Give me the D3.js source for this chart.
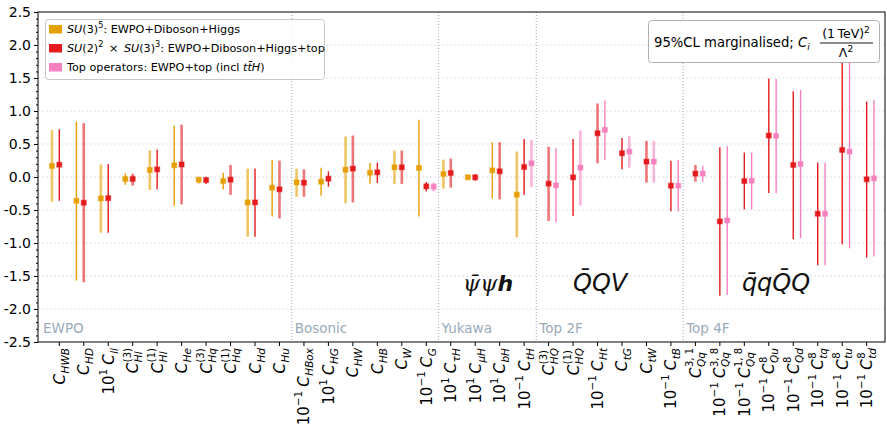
<!DOCTYPE html>
<html>
<head>
<meta charset="utf-8">
<script src="https://cdn.jsdelivr.net/npm/d3@7"></script>
<style>
  body { margin: 0; background: #fff; }
  svg { font-family: 'DejaVu Sans', sans-serif; }
</style>
</head>
<body>
<svg id="canvas" width="887" height="425"></svg>
<script>
// coefficient labels: scale prefix, superscript, subscript
const coefScale = [null, null, '1', null, null, null, null, null, null, null,
  '−1', '1', null, null, null, '−1',
  '1', '1', '1', '−1',
  null, null, '−1', null, null, '−1',
  null, '−1', '−1', '−1', '−1', '−1', '−1', '−1'];
const coefSups = [null, null, null, '(3)', '(1)', null, '(3)', '(1)', null, null,
  null, null, null, null, null, null,
  null, null, null, null,
  '(3)', '(1)', null, null, null, null,
  '3, 1', '3, 8', '1, 8', '8', '8', '8', '8', '8'];
const coefSubs = ['HWB', 'HD', 'll', 'Hl', 'Hl', 'He', 'Hq', 'Hq', 'Hd', 'Hu',
  'HBox', 'HG', 'HW', 'HB', 'W', 'G',
  'τH', 'μH', 'bH', 'tH',
  'HQ', 'HQ', 'Ht', 'tG', 'tW', 'tB',
  'Qq', 'Qq', 'Qq', 'Qu', 'Qd', 'tq', 'tu', 'td'];

const sectionNames = ['EWPO', 'Bosonic', 'Yukawa', 'Top 2F', 'Top 4F'];
const sectionStart = [0, 10, 16, 20, 26];

// SU(3)^5 fit (first 20 coefficients)
const su3Mid = [0.167, -0.36, -0.324, -0.03, 0.106, 0.177, -0.04, -0.06, -0.385, -0.162,
  -0.081, -0.071, 0.111, 0.066, 0.147, 0.137, 0.046, -0.005, 0.101, -0.268];
const su3Hi = [0.71, 0.84, 0.19, 0.056, 0.405, 0.78, 0.0, 0.066, 0.127, 0.263,
  0.127, 0.142, 0.613, 0.213, 0.40, 0.866, 0.263, 0.035, 0.527, 0.385];
const su3Lo = [-0.375, -1.57, -0.845, -0.12, -0.197, -0.435, -0.10, -0.19, -0.906, -0.60,
  -0.30, -0.284, -0.40, -0.101, -0.106, -0.60, -0.177, -0.046, -0.324, -0.911];

// SU(2)^2 x SU(3)^3 fit
const su2Mid = [0.187, -0.39, -0.32, -0.03, 0.116, 0.19, -0.046, -0.04, -0.385, -0.187,
  -0.086, -0.025, 0.127, 0.071, 0.147, -0.142, 0.061, -0.005, 0.086, 0.152,
  -0.101, -0.005, 0.663, 0.36, 0.233, -0.132, 0.051, -0.673, -0.061, 0.628, 0.182, -0.557, 0.41, -0.035];
const su2Hi = [0.724, 0.815, 0.197, 0.05, 0.415, 0.795, 0.005, 0.18, 0.127, 0.248,
  0.116, 0.086, 0.628, 0.218, 0.40, -0.076, 0.278, 0.04, 0.527, 0.577,
  0.46, 0.577, 1.114, 0.592, 0.547, 0.248, 0.182, 0.45, 0.37, 1.494, 1.301, 0.218, 1.9, 1.144];
const su2Lo = [-0.36, -1.595, -0.845, -0.13, -0.187, -0.415, -0.106, -0.27, -0.906, -0.628,
  -0.30, -0.147, -0.385, -0.091, -0.106, -0.218, -0.162, -0.056, -0.339, -0.273,
  -0.668, -0.592, 0.208, 0.116, -0.086, -0.52, -0.071, -1.80, -0.491, -0.243, -0.942, -1.337, -1.018, -1.22];

// top operators fit (null = not in fit)
const topMid = [null, null, null, null, null, null, null, null, null, null,
  null, null, null, null, null, -0.147, null, null, null, 0.208,
  -0.127, 0.142, 0.714, 0.385, 0.233, -0.132, 0.051, -0.658, -0.056, 0.623, 0.197, -0.557, 0.385, -0.02];
const topHi = [null, null, null, null, null, null, null, null, null, null,
  null, null, null, null, null, -0.086, null, null, null, 0.56,
  0.435, 0.704, 1.16, 0.623, 0.547, 0.253, 0.172, 0.466, 0.37, 1.484, 1.32, 0.218, 1.9, 1.165];
const topLo = [null, null, null, null, null, null, null, null, null, null,
  null, null, null, null, null, -0.218, null, null, null, -0.152,
  -0.689, -0.43, 0.263, 0.142, -0.086, -0.52, -0.071, -1.787, -0.491, -0.248, -0.927, -1.337, -1.08, -1.205];

const yTicks = [-2.5, -2.0, -1.5, -1.0, -0.5, 0.0, 0.5, 1.0, 1.5, 2.0, 2.5];

// styling
const colors = { su3: '#e69f00', su2: '#e41a1c', top: '#f781bf' };
const thickBars = {
  su3: [0, 2, 4, 6, 8, 10, 12, 14, 16, 19],
  su2: [1, 3, 5, 7, 9, 10, 12, 14, 16, 18, 20, 22, 24, 26],
  top: [15, 19, 21, 23, 24]
};

const svg = d3.select('#canvas');
const plot = { left: 38, right: 885, top: 12, bottom: 342 };

const x = d3.scaleLinear().domain([-0.87, 33.75]).range([plot.left, plot.right]);
const y = d3.scaleLinear().domain([-2.5, 2.5]).range([plot.bottom, plot.top]);

// horizontal grid
svg.append('g').selectAll('line')
  .data(yTicks.slice(1, -1))
  .enter().append('line')
  .attr('x1', plot.left).attr('x2', plot.right)
  .attr('y1', d => y(d)).attr('y2', d => y(d))
  .attr('stroke', '#d8d8d8').attr('stroke-width', 0.8)
  .attr('stroke-dasharray', '2,2');

// section separators and names
svg.append('g').selectAll('line')
  .data(sectionStart.slice(1))
  .enter().append('line')
  .attr('x1', d => x(d - 0.5)).attr('x2', d => x(d - 0.5))
  .attr('y1', plot.top).attr('y2', plot.bottom)
  .attr('stroke', '#a9b9c8').attr('stroke-width', 1.2)
  .attr('stroke-dasharray', '1,2');

svg.append('g').selectAll('text')
  .data(sectionNames)
  .enter().append('text')
  .attr('x', (d, i) => i === 0 ? plot.left + 5 : x(sectionStart[i] - 0.5) + 3)
  .attr('y', 333)
  .attr('font-size', 13.5)
  .attr('fill', '#9aaab8')
  .text(d => d);

// error bars
const series = [
  { key: 'su3', mid: su3Mid, hi: su3Hi, lo: su3Lo, off: -0.3 },
  { key: 'su2', mid: su2Mid, hi: su2Hi, lo: su2Lo, off: 0 },
  { key: 'top', mid: topMid, hi: topHi, lo: topLo, off: 0.3 }
];

series.forEach(s => {
  const pts = s.mid.map((m, i) => ({ i: i, mid: m, hi: s.hi[i], lo: s.lo[i], thick: thickBars[s.key].includes(i) }))
    .filter(p => p.mid !== null);
  const g = svg.append('g');
  g.selectAll('line')
    .data(pts)
    .enter().append('line')
    .attr('x1', p => x(p.i + s.off)).attr('x2', p => x(p.i + s.off))
    .attr('y1', p => y(p.lo)).attr('y2', p => y(p.hi))
    .attr('stroke', colors[s.key])
    .attr('stroke-width', p => p.thick ? 2.6 : 1.4)
    .attr('stroke-opacity', p => p.thick ? 0.6 : 1);
  g.selectAll('rect')
    .data(pts)
    .enter().append('rect')
    .attr('x', p => x(p.i + s.off) - 2.5)
    .attr('y', p => y(p.mid) - 2.5)
    .attr('width', 5).attr('height', 5)
    .attr('fill', colors[s.key])
    .attr('stroke', colors[s.key])
    .attr('stroke-opacity', 0.4)
    .attr('stroke-width', 1.2);
});

// frame
svg.append('rect')
  .attr('x', plot.left).attr('y', plot.top)
  .attr('width', plot.right - plot.left).attr('height', plot.bottom - plot.top)
  .attr('fill', 'none').attr('stroke', '#000').attr('stroke-width', 1);

// y axis
const yAxis = svg.append('g')
  .attr('transform', `translate(${plot.left},0)`)
  .call(d3.axisLeft(y).tickValues(yTicks).tickFormat(d => d3.format('.1f')(d).replace('−', '-')).tickSize(4).tickPadding(3));
yAxis.select('.domain').remove();
yAxis.selectAll('text').attr('font-size', 14).attr('font-family', 'DejaVu Sans');

svg.append('g')
  .attr('transform', `translate(${plot.left},0)`)
  .call(d3.axisLeft(y).tickValues(d3.range(-25, 26).map(v => v / 10)).tickFormat('').tickSize(2))
  .select('.domain').remove();

// x ticks
svg.append('g').selectAll('line')
  .data(coefSubs)
  .enter().append('line')
  .attr('x1', (d, i) => x(i)).attr('x2', (d, i) => x(i))
  .attr('y1', plot.bottom).attr('y2', plot.bottom + 4)
  .attr('stroke', '#000');

// rotated x labels built from pieces
coefSubs.forEach((sub, i) => {
  const g = svg.append('g');
  let cx = 0;
  const put = (str, size, dy, italic) => {
    const t = g.append('text')
      .attr('x', cx).attr('y', dy)
      .attr('font-size', size)
      .attr('font-style', italic ? 'italic' : null)
      .text(str);
    return t.node().getComputedTextLength();
  };
  if (coefScale[i]) {
    cx += put('10', 15, 0);
    cx += put(coefScale[i], 10.5, -7) + 4;
  }
  cx += put('C', 15, 0, true) + 0.5;
  let w1 = 0;
  if (coefSups[i]) w1 = put(coefSups[i], 10, -7.5);
  const w2 = put(sub, 10.5, 4, true);
  cx += Math.max(w1, w2);
  g.attr('transform', `translate(${x(i) + 5.5},${plot.bottom + 6}) rotate(-90) translate(${-cx},0)`);
});

// legend
const legendItems = [
  { key: 'su3', parts: [['SU', 'italic'], ['(3)'], ['5', 'sup'], [': EWPO+Diboson+Higgs']] },
  { key: 'su2', parts: [['SU', 'italic'], ['(2)'], ['2', 'sup'], ['\u2002×\u2002'], ['SU', 'italic'], ['(3)'], ['3', 'sup'], [': EWPO+Diboson+Higgs+top']] },
  { key: 'top', parts: [['Top operators: EWPO+top (incl '], ['tt̄H', 'italic'], [')']] }
];
const legend = svg.append('g');
legend.append('rect')
  .attr('x', 45.5).attr('y', 19.5).attr('width', 279).attr('height', 60).attr('rx', 3)
  .attr('fill', '#fff').attr('fill-opacity', 0.85)
  .attr('stroke', '#c8c8c8');
legendItems.forEach((item, k) => {
  const cy = 29 + k * 19;
  legend.append('rect')
    .attr('x', 49).attr('y', cy - 4).attr('width', 13).attr('height', 8.5)
    .attr('fill', colors[item.key]);
  const t = legend.append('text').attr('x', 67).attr('y', cy + 4).attr('font-size', 11.2);
  let raised = false;
  item.parts.forEach(p => {
    const sp = t.append('tspan').text(p[0]);
    if (p[1] === 'italic') sp.attr('font-style', 'italic');
    if (p[1] === 'sup') {
      sp.attr('font-size', 8.2).attr('dy', -5);
      raised = true;
    } else if (raised) {
      sp.attr('dy', 5);
      raised = false;
    }
  });
});

// info box
const info = svg.append('g');
info.append('rect')
  .attr('x', 648.5).attr('y', 20.5).attr('width', 231).attr('height', 42).attr('rx', 3)
  .attr('fill', '#fff').attr('stroke', '#b0b0b0');
const infoText = info.append('text').attr('x', 654).attr('y', 47).attr('font-size', 13.2);
infoText.append('tspan').text('95%CL marginalised; ');
infoText.append('tspan').attr('font-style', 'italic').text('C');
infoText.append('tspan').attr('font-style', 'italic').attr('font-size', 9).attr('dy', 3).text('i');
const fracX = 846;
info.append('text').attr('x', fracX).attr('y', 38).attr('font-size', 12.5).attr('text-anchor', 'middle')
  .call(t => {
    t.append('tspan').text('(1\u2009TeV)');
    t.append('tspan').attr('font-size', 9).attr('dy', -5).text('2');
  });
info.append('line').attr('x1', 820).attr('x2', 873).attr('y1', 43).attr('y2', 43)
  .attr('stroke', '#000').attr('stroke-width', 0.9);
info.append('text').attr('x', fracX).attr('y', 57).attr('font-size', 12.5).attr('text-anchor', 'middle')
  .call(t => {
    t.append('tspan').text('Λ');
    t.append('tspan').attr('font-size', 9).attr('dy', -5).text('2');
  });

// operator class annotations
const annots = [
  { at: 16.5, text: 'ψ\u0304ψ', bold: 'h', font: 'DejaVu Serif', size: 22 },
  { at: 21.0, text: 'Q\u0304QV', font: 'DejaVu Sans', size: 24 },
  { at: 27.9, text: 'q\u0304qQ\u0304Q', font: 'DejaVu Sans', size: 24 }
];
annots.forEach(a => {
  const t = svg.append('text')
    .attr('x', x(a.at)).attr('y', 291)
    .attr('font-size', a.size).attr('font-style', 'italic')
    .attr('font-family', a.font)
    .attr('fill', '#111');
  t.append('tspan').text(a.text);
  if (a.bold) t.append('tspan').attr('font-weight', 'bold').attr('font-family', 'DejaVu Sans').text(a.bold);
});
</script>
</body>
</html>
